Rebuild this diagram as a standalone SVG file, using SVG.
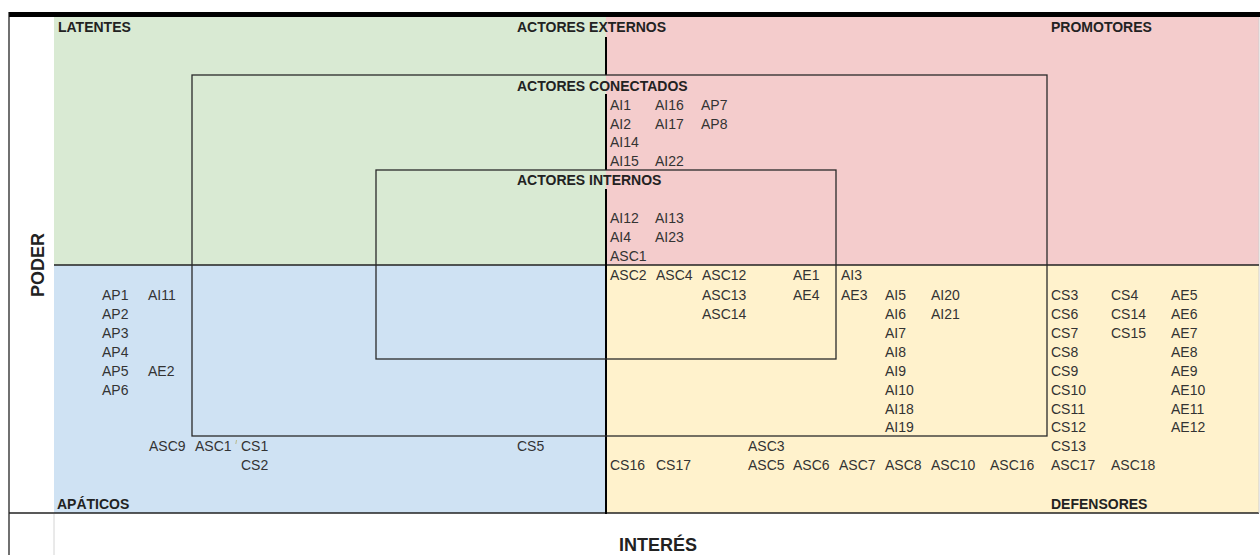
<svg xmlns="http://www.w3.org/2000/svg" width="1260" height="555" viewBox="0 0 1260 555">
<style>
.l{font-family:"Liberation Sans",Arial,sans-serif;font-size:14px;fill:#333}
.h{font-family:"Liberation Sans",Arial,sans-serif;font-size:14px;font-weight:bold;fill:#222}
.ax{font-family:"Liberation Sans",Arial,sans-serif;font-size:18px;font-weight:bold;fill:#222}
.box{fill:none;stroke:#2a2a2a;stroke-width:1.3}
.axis{stroke:#000;stroke-width:2;fill:none}
.mid{stroke:#222;stroke-width:1.5;fill:none}
</style>
<rect width="1260" height="555" fill="#fff"/>
<g id="quadrants">
  <rect id="q-latentes" x="54" y="17" width="552" height="248" fill="#d9ead3"/>
  <rect id="q-promotores" x="606" y="17" width="653" height="248" fill="#f4cccc"/>
  <rect id="q-apaticos" x="54" y="265" width="552" height="248" fill="#cfe2f3"/>
  <rect id="q-defensores" x="606" y="265" width="653" height="248" fill="#fff2cc"/>
</g>
<g id="frame">
  <rect x="9" y="12" width="1251" height="5" fill="#000"/>
  <line x1="9" y1="12" x2="9" y2="555" stroke="#111" stroke-width="1.2"/>
  <line x1="9" y1="513" x2="1259" y2="513" stroke="#222" stroke-width="1.5"/>
  <line x1="54" y1="514" x2="54" y2="555" stroke="#d4d4d4" stroke-width="1"/>
  <line x1="1259" y1="17" x2="1259" y2="513" stroke="#cfcfcf" stroke-width="1"/>
</g>
<g id="connectors">
  <line class="mid" x1="54" y1="265" x2="1259" y2="265"/>
  <line class="axis" x1="606" y1="37" x2="606" y2="75"/>
  <line class="axis" x1="606" y1="94" x2="606" y2="170"/>
  <line class="axis" x1="606" y1="189" x2="606" y2="514"/>
  <rect id="box-conectados" class="box" x="192" y="75" width="855" height="361"/>
  <rect id="box-internos" class="box" x="376" y="170" width="460" height="189"/>
</g>
<g id="headers">
  <text class="h" x="58" y="32">LATENTES</text>
  <text class="h" x="517" y="32">ACTORES EXTERNOS</text>
  <text class="h" x="1051" y="32">PROMOTORES</text>
  <text class="h" x="517" y="90.5">ACTORES CONECTADOS</text>
  <text class="h" x="517" y="185">ACTORES INTERNOS</text>
  <text class="h" x="57" y="509">APÁTICOS</text>
  <text class="h" x="1051" y="509">DEFENSORES</text>
  <text class="ax" x="44" y="265" text-anchor="middle" transform="rotate(-90 44 265)">PODER</text>
  <text class="ax" x="619" y="551">INTERÉS</text>
</g>
<g id="node-promotores-upper">
  <text class="l" x="610" y="110">AI1</text><text class="l" x="655" y="110">AI16</text><text class="l" x="701" y="110">AP7</text>
  <text class="l" x="610" y="128.5">AI2</text><text class="l" x="655" y="128.5">AI17</text><text class="l" x="701" y="128.5">AP8</text>
  <text class="l" x="610" y="147">AI14</text>
  <text class="l" x="610" y="166">AI15</text><text class="l" x="655" y="166">AI22</text>
  <text class="l" x="610" y="223">AI12</text><text class="l" x="655" y="223">AI13</text>
  <text class="l" x="610" y="242">AI4</text><text class="l" x="655" y="242">AI23</text>
  <text class="l" x="610" y="261">ASC1</text>
</g>
<g id="node-defensores">
  <text class="l" x="610" y="280">ASC2</text><text class="l" x="656" y="280">ASC4</text><text class="l" x="702" y="280">ASC12</text><text class="l" x="793" y="280">AE1</text><text class="l" x="841" y="280">AI3</text>
  <text class="l" x="702" y="299.5">ASC13</text><text class="l" x="793" y="299.5">AE4</text><text class="l" x="841" y="299.5">AE3</text><text class="l" x="885" y="299.5">AI5</text><text class="l" x="931" y="299.5">AI20</text>
  <text class="l" x="702" y="318.5">ASC14</text><text class="l" x="885" y="318.5">AI6</text><text class="l" x="931" y="318.5">AI21</text>
  <text class="l" x="885" y="337.5">AI7</text>
  <text class="l" x="885" y="356.5">AI8</text>
  <text class="l" x="885" y="375.5">AI9</text>
  <text class="l" x="885" y="394.5">AI10</text>
  <text class="l" x="885" y="413.5">AI18</text>
  <text class="l" x="885" y="432">AI19</text>
  <text class="l" x="748" y="451">ASC3</text>
  <text class="l" x="610" y="470">CS16</text><text class="l" x="656" y="470">CS17</text>
  <text class="l" x="748" y="470">ASC5</text><text class="l" x="793" y="470">ASC6</text><text class="l" x="839" y="470">ASC7</text><text class="l" x="885" y="470">ASC8</text><text class="l" x="931" y="470">ASC10</text><text class="l" x="990" y="470">ASC16</text>
</g>
<g id="node-defensores-right">
  <text class="l" x="1051" y="299.5">CS3</text><text class="l" x="1111" y="299.5">CS4</text><text class="l" x="1171" y="299.5">AE5</text>
  <text class="l" x="1051" y="318.5">CS6</text><text class="l" x="1111" y="318.5">CS14</text><text class="l" x="1171" y="318.5">AE6</text>
  <text class="l" x="1051" y="337.5">CS7</text><text class="l" x="1111" y="337.5">CS15</text><text class="l" x="1171" y="337.5">AE7</text>
  <text class="l" x="1051" y="356.5">CS8</text><text class="l" x="1171" y="356.5">AE8</text>
  <text class="l" x="1051" y="375.5">CS9</text><text class="l" x="1171" y="375.5">AE9</text>
  <text class="l" x="1051" y="394.5">CS10</text><text class="l" x="1171" y="394.5">AE10</text>
  <text class="l" x="1051" y="413.5">CS11</text><text class="l" x="1171" y="413.5">AE11</text>
  <text class="l" x="1051" y="432">CS12</text><text class="l" x="1171" y="432">AE12</text>
  <text class="l" x="1051" y="451">CS13</text>
  <text class="l" x="1051" y="470">ASC17</text><text class="l" x="1111" y="470">ASC18</text>
</g>
<g id="node-apaticos">
  <text class="l" x="102" y="299.5">AP1</text><text class="l" x="148" y="299.5">AI11</text>
  <text class="l" x="102" y="318.5">AP2</text>
  <text class="l" x="102" y="337.5">AP3</text>
  <text class="l" x="102" y="356.5">AP4</text>
  <text class="l" x="102" y="375.5">AP5</text><text class="l" x="148" y="375.5">AE2</text>
  <text class="l" x="102" y="394.5">AP6</text>
  <text class="l" x="149" y="451">ASC9</text><text class="l" x="195" y="451">ASC1</text>
  <line x1="236.5" y1="440" x2="235.8" y2="444" stroke="#b9b98a" stroke-width="1"/>
  <text class="l" x="241" y="451">CS1</text>
  <text class="l" x="241" y="470">CS2</text>
  <text class="l" x="517" y="451">CS5</text>
</g>
</svg>
